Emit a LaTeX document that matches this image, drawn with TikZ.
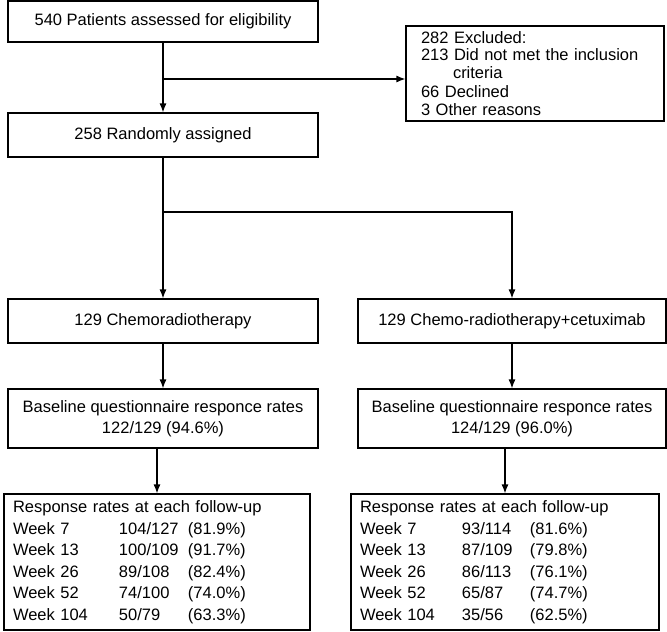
\documentclass[tikz,border=0pt]{standalone}
\usepackage{fontspec}
\setmainfont{Liberation Sans}
\usepackage{tikz}
\usetikzlibrary{arrows.meta}

\begin{document}
\begin{tikzpicture}[x=1pt, y=-1pt,
        box/.style={draw, line width=1.2pt, inner sep=0pt, font=\fontsize{16.5}{21}\selectfont},
        arr/.style={line width=1.2pt, -{Latex[length=9pt,width=7pt]}}]
    \useasboundingbox (0,0) rectangle (667,632);
    \node[box, minimum width=310pt, minimum height=41pt] (elig) at (163,21.5) {540 Patients assessed for eligibility};
    \node[box, minimum width=258pt, minimum height=95pt, text width=228pt, align=left,
          font=\fontsize{16.5}{17.5}\selectfont] (excl) at (535,73.5)
         {282 Excluded:\\ 213 Did not met the inclusion\\ \hspace*{32pt}criteria\\[2pt] 66 Declined\\ 3 Other reasons};
    \node[box, minimum width=310pt, minimum height=44pt] (rand) at (163,135) {258 Randomly assigned};
    \node[box, minimum width=310pt, minimum height=44pt] (arm1) at (163,321) {129 Chemoradiotherapy};
    \node[box, minimum width=308pt, minimum height=44pt] (arm2) at (512,321) {129 Chemo-radiotherapy+cetuximab};
    \node[box, minimum width=310pt, minimum height=59pt, align=center] (base1) at (163,418.5)
         {Baseline questionnaire responce rates\\ 122/129 (94.6\%)};
    \node[box, minimum width=308pt, minimum height=59pt, align=center] (base2) at (512,418.5)
         {Baseline questionnaire responce rates\\ 124/129 (96.0\%)};
    \node[box, minimum width=306pt, minimum height=136pt, text width=288pt, align=left,
          font=\fontsize{16.5}{21.5}\selectfont] (fu1) at (157,562)
         {\begin{tabular}{@{}p{106pt}@{}p{69pt}@{}l@{}}
          \multicolumn{3}{@{}l@{}}{Response rates at each follow-up}\\
          Week 7 & 104/127 & (81.9\%)\\
          Week 13 & 100/109 & (91.7\%)\\
          Week 26 & 89/108 & (82.4\%)\\
          Week 52 & 74/100 & (74.0\%)\\
          Week 104 & 50/79 & (63.3\%)
          \end{tabular}};
    \node[box, minimum width=308pt, minimum height=136pt, text width=290pt, align=left,
          font=\fontsize{16.5}{21.5}\selectfont] (fu2) at (505,562)
         {\begin{tabular}{@{}p{102pt}@{}p{68pt}@{}l@{}}
          \multicolumn{3}{@{}l@{}}{Response rates at each follow-up}\\
          Week 7 & 93/114 & (81.6\%)\\
          Week 13 & 87/109 & (79.8\%)\\
          Week 26 & 86/113 & (76.1\%)\\
          Week 52 & 65/87 & (74.7\%)\\
          Week 104 & 35/56 & (62.5\%)
          \end{tabular}};
    \coordinate (cut1) at (163,79);
    \coordinate (cut2) at (163,212);
    \draw[arr] (elig) -- (rand);
    \draw[arr] (cut1) -- (cut1 -| excl.west);
    \draw[arr] (rand) -- (arm1);
    \draw[arr] (cut2) -| (arm2);
    \draw[arr] (arm1) -- (base1);
    \draw[arr] (arm2) -- (base2);
    \draw[arr] (base1.south -| fu1.north) -- (fu1.north);
    \draw[arr] (base2.south -| fu2.north) -- (fu2.north);
\end{tikzpicture}
\end{document}
